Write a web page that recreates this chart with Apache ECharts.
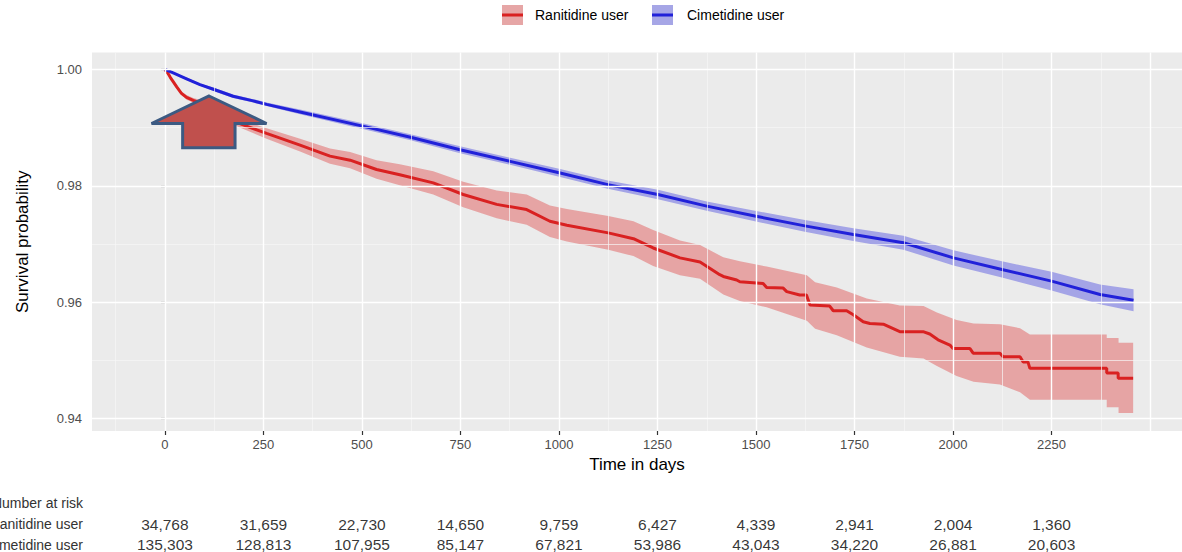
<!DOCTYPE html>
<html>
<head>
<meta charset="utf-8">
<script src="https://cdn.jsdelivr.net/npm/echarts@6/dist/echarts.min.js"></script>
<style>
html,body{margin:0;padding:0;background:#fff;}
#chart{width:1182px;height:552px;}
</style>
</head>
<body>
<div id="chart"></div>
<script>
// ---------- DATA ----------
const seriesNames = ['Ranitidine user', 'Cimetidine user'];

// Ranitidine user: Kaplan-Meier estimate (corners of the visible steps included)
const raniTime = [0, 8, 14, 21, 30, 42, 55, 72, 89, 130, 190, 258, 343, 419, 470, 537, 596, 681, 757, 842, 918, 977, 1020, 1125, 1189, 1239, 1307, 1358, 1408, 1417, 1451, 1459, 1518, 1527, 1569, 1578, 1611, 1628, 1637, 1687, 1696, 1730, 1747, 1772, 1789, 1823, 1865, 1924, 1941, 1962, 1992, 2000, 2043, 2051, 2119, 2127, 2170, 2178, 2190, 2195, 2390, 2390, 2419, 2419, 2457];
const raniSurv = [1.0000, 0.9993, 0.9986, 0.9979, 0.9970, 0.9959, 0.9952, 0.9947, 0.9943, 0.9925, 0.9907, 0.9890, 0.9870, 0.9851, 0.9844, 0.9828, 0.9819, 0.9805, 0.9785, 0.9768, 0.9759, 0.9739, 0.9732, 0.9719, 0.9709, 0.9693, 0.9676, 0.9669, 0.9647, 0.9644, 0.9638, 0.9635, 0.9632, 0.9625, 0.9624, 0.9618, 0.9612, 0.9612, 0.9595, 0.9593, 0.9585, 0.9585, 0.9578, 0.9566, 0.9563, 0.9562, 0.9549, 0.9549, 0.9545, 0.9535, 0.9526, 0.9520, 0.9520, 0.9512, 0.9512, 0.9506, 0.9506, 0.9497, 0.9497, 0.9486, 0.9486, 0.9478, 0.9478, 0.9469, 0.9469];

// Ranitidine user: 95% confidence band
const raniBandTime = [0, 8, 14, 21, 30, 42, 55, 72, 89, 130, 190, 258, 343, 419, 470, 537, 596, 681, 757, 842, 918, 977, 1020, 1125, 1189, 1239, 1307, 1358, 1417, 1459, 1527, 1629, 1650, 1705, 1781, 1865, 1925, 1959, 2009, 2052, 2119, 2170, 2195, 2390, 2390, 2420, 2420, 2457];
const raniLower = [1.0000, 0.9992, 0.9984, 0.9977, 0.9967, 0.9956, 0.9948, 0.9943, 0.9938, 0.9919, 0.9900, 0.9881, 0.9859, 0.9838, 0.9830, 0.9812, 0.9801, 0.9785, 0.9763, 0.9744, 0.9733, 0.9712, 0.9704, 0.9690, 0.9679, 0.9662, 0.9646, 0.9640, 0.9613, 0.9602, 0.9591, 0.9568, 0.9554, 0.9543, 0.9522, 0.9506, 0.9503, 0.9490, 0.9473, 0.9463, 0.9458, 0.9445, 0.9432, 0.9432, 0.9419, 0.9419, 0.9409, 0.9409];
const raniUpper = [1.0000, 0.9994, 0.9988, 0.9981, 0.9973, 0.9962, 0.9956, 0.9951, 0.9948, 0.9931, 0.9914, 0.9899, 0.9881, 0.9864, 0.9858, 0.9844, 0.9837, 0.9825, 0.9807, 0.9792, 0.9785, 0.9766, 0.9760, 0.9748, 0.9739, 0.9724, 0.9706, 0.9698, 0.9677, 0.9670, 0.9661, 0.9646, 0.9634, 0.9625, 0.9606, 0.9594, 0.9593, 0.9582, 0.9569, 0.9563, 0.9562, 0.9555, 0.9544, 0.9544, 0.9538, 0.9538, 0.9530, 0.9530];

// Cimetidine user
const cimeTime  = [0, 21, 55, 89, 123, 173, 224, 258, 343, 499, 626, 749, 876, 1003, 1124, 1251, 1375, 1497, 1624, 1747, 1874, 2001, 2124, 2250, 2373, 2458];
const cimeSurv  = [1.0000, 0.9994, 0.9984, 0.9974, 0.9966, 0.9954, 0.9946, 0.9940, 0.9927, 0.9903, 0.9883, 0.9862, 0.9842, 0.9822, 0.9802, 0.9785, 0.9765, 0.9748, 0.9731, 0.9716, 0.9702, 0.9676, 0.9656, 0.9636, 0.9613, 0.9603];
const cimeLower = [1.0000, 0.9993, 0.9982, 0.9972, 0.9963, 0.9951, 0.9943, 0.9937, 0.9923, 0.9898, 0.9878, 0.9856, 0.9836, 0.9815, 0.9795, 0.9777, 0.9757, 0.9739, 0.9721, 0.9705, 0.9690, 0.9663, 0.9642, 0.9620, 0.9596, 0.9584];
const cimeUpper = [1.0000, 0.9995, 0.9986, 0.9976, 0.9969, 0.9957, 0.9949, 0.9943, 0.9931, 0.9908, 0.9888, 0.9868, 0.9848, 0.9829, 0.9809, 0.9793, 0.9773, 0.9757, 0.9741, 0.9727, 0.9714, 0.9689, 0.9670, 0.9652, 0.9630, 0.9622];

// Axis ticks
const xTicks = [0, 250, 500, 750, 1000, 1250, 1500, 1750, 2000, 2250];
const xMajorGrid = [0, 250, 500, 750, 1000, 1250, 1500, 1750, 2000, 2250, 2500];
const xMinorGrid = [-125, 125, 375, 625, 875, 1125, 1375, 1625, 1875, 2125, 2375];
const yTicks = [0.94, 0.96, 0.98, 1.00];
const yMinorGrid = [0.95, 0.97, 0.99];

// Number at risk table
const riskTitle = 'Number at risk';
const riskTimes = [0, 250, 500, 750, 1000, 1250, 1500, 1750, 2000, 2250];
const riskRani = [34768, 31659, 22730, 14650, 9759, 6427, 4339, 2941, 2004, 1360];
const riskCime = [135303, 128813, 107955, 85147, 67821, 53986, 43043, 34220, 26881, 20603];

// Annotation arrow (in data units)
const arrowPts = [[112, 0.99544], [258, 0.99071], [178, 0.99071], [178, 0.98653], [45, 0.98653], [45, 0.99071], [-34, 0.99071]];

// ---------- STYLE ----------
const FONT = 'Liberation Sans, Arial, Helvetica, sans-serif';
const RED = '#D92121';
const BLUE = '#2121D9';
const RED_BAND = 'rgba(220,32,32,0.35)';
const BLUE_BAND = 'rgba(32,32,220,0.35)';
const X_MIN = -185, X_MAX = 2581;
const Y_MIN = 0.93782, Y_MAX = 1.00292;

const zip = (a, b) => a.map((v, i) => [v, b[i]]);

const chart = echarts.init(document.getElementById('chart'), null, {renderer: 'svg'});

function gridLineSeries(name, xs, ys, width, color) {
  return {
    name: name, type: 'line', xAxisIndex: 0, yAxisIndex: 0,
    data: [[0, 1]], symbol: 'none', lineStyle: {opacity: 0}, silent: true, z: 1,
    markLine: {
      silent: true, symbol: ['none', 'none'], label: {show: false},
      lineStyle: {color: color, width: width, type: 'solid'},
      emphasis: {disabled: true},
      data: xs.map(v => ({xAxis: v})).concat(ys.map(v => ({yAxis: v})))
    }
  };
}

function bandSeries(name, time, lower, upper, color) {
  return {
    name: name + ' band', type: 'custom', xAxisIndex: 0, yAxisIndex: 0,
    data: [[time[0], upper[0]]], silent: true, clip: true, z: 2,
    renderItem: function (params, api) {
      const pts = [];
      for (let i = 0; i < time.length; i++) pts.push(api.coord([time[i], upper[i]]));
      for (let i = time.length - 1; i >= 0; i--) pts.push(api.coord([time[i], lower[i]]));
      return {type: 'polygon', shape: {points: pts}, style: {fill: color, stroke: null}};
    }
  };
}

const option = {
  animation: false,
  backgroundColor: '#fff',
  textStyle: {fontFamily: FONT},
  grid: [
    {left: 92, right: 0, top: 52.5, bottom: 121, show: true, backgroundColor: '#EBEBEB', borderWidth: 0, outerBoundsMode: 'none', containLabel: false},
    {left: 92, right: 0, top: 493, height: 62, show: false, outerBoundsMode: 'none', containLabel: false}
  ],
  xAxis: [
    {
      type: 'value', gridIndex: 0, min: X_MIN, max: X_MAX,
      name: 'Time in days', nameLocation: 'middle', nameGap: 25,
      nameTextStyle: {fontSize: 17, color: '#000', fontFamily: FONT},
      axisLine: {show: false},
      axisTick: {show: true, length: 4, lineStyle: {color: '#333', width: 1.2}, customValues: xTicks},
      axisLabel: {customValues: xTicks, fontSize: 13, color: '#4D4D4D', margin: 7, fontFamily: FONT,
                  formatter: v => String(v)},
      splitLine: {show: false}, minorSplitLine: {show: false}
    },
    {
      type: 'value', gridIndex: 1, min: X_MIN, max: X_MAX, show: false
    }
  ],
  yAxis: [
    {
      type: 'value', gridIndex: 0, min: Y_MIN, max: Y_MAX,
      name: 'Survival probability', nameLocation: 'middle', nameGap: 61, nameRotate: 90,
      nameTextStyle: {fontSize: 17, color: '#000', fontFamily: FONT},
      axisLine: {show: false},
      axisTick: {show: true, length: 4, lineStyle: {color: '#333', width: 1.2}, customValues: yTicks},
      axisLabel: {customValues: yTicks, fontSize: 13, color: '#4D4D4D', margin: 10, fontFamily: FONT,
                  formatter: v => v.toFixed(2)},
      splitLine: {show: false}
    },
    {
      type: 'category', gridIndex: 1, inverse: true,
      data: [riskTitle, seriesNames[0], seriesNames[1]],
      axisLine: {show: false}, axisTick: {show: false},
      axisLabel: {interval: 0, fontSize: 14, color: '#333', margin: 9, fontFamily: FONT}
    }
  ],
  series: [
    gridLineSeries('minor grid', xMinorGrid, yMinorGrid, 0.7, '#F7F7F7'),
    gridLineSeries('major grid', xMajorGrid, yTicks, 1.4, '#FFFFFF'),
    bandSeries(seriesNames[0], raniBandTime, raniLower, raniUpper, RED_BAND),
    bandSeries(seriesNames[1], cimeTime, cimeLower, cimeUpper, BLUE_BAND),
    {
      name: seriesNames[0], type: 'line', xAxisIndex: 0, yAxisIndex: 0,
      data: zip(raniTime, raniSurv), symbol: 'none',
      lineStyle: {color: RED, width: 3}, z: 3
    },
    {
      name: seriesNames[1], type: 'line', xAxisIndex: 0, yAxisIndex: 0,
      data: zip(cimeTime, cimeSurv), symbol: 'none',
      lineStyle: {color: BLUE, width: 3}, z: 3
    },
    {
      name: 'risk', type: 'scatter', xAxisIndex: 1, yAxisIndex: 1,
      symbolSize: 1, itemStyle: {color: 'rgba(0,0,0,0)'}, silent: true,
      data: riskTimes.map((t, i) => [t, seriesNames[0], riskRani[i]])
        .concat(riskTimes.map((t, i) => [t, seriesNames[1], riskCime[i]])),
      label: {
        show: true, position: 'inside', fontSize: 15.5, color: '#000', fontFamily: FONT,
        formatter: p => p.value[2].toLocaleString('en-US')
      }
    }
  ]
};

chart.setOption(option);

// legend + annotation arrow
const legendItems = [
  {x: 502, name: seriesNames[0], band: '#E6A6A6', line: RED, tx: 535},
  {x: 652, name: seriesNames[1], band: '#A6A6E6', line: BLUE, tx: 687}
];
const graphics = [];
legendItems.forEach(it => {
  graphics.push({type: 'rect', left: it.x, top: 5, shape: {width: 21, height: 20}, style: {fill: it.band}, z: 10});
  graphics.push({type: 'line', shape: {x1: it.x, y1: 15, x2: it.x + 21, y2: 15}, style: {stroke: it.line, lineWidth: 3}, z: 11});
  graphics.push({type: 'text', x: it.tx, y: 15, style: {text: it.name, fontSize: 14, fill: '#000', fontFamily: FONT, verticalAlign: 'middle'}, z: 11});
});
const arrowPix = arrowPts.map(p => chart.convertToPixel({gridIndex: 0}, p));
graphics.push({
  type: 'polygon', shape: {points: arrowPix},
  style: {fill: '#C0504D', stroke: '#3C5A82', lineWidth: 3, lineJoin: 'miter'}, z: 20
});
chart.setOption({graphic: graphics});
</script>
</body>
</html>
